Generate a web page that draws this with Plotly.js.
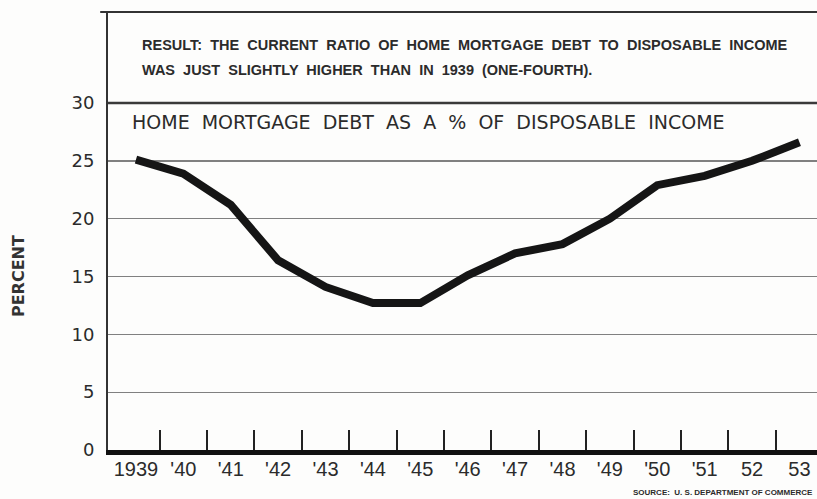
<!DOCTYPE html>
<html>
<head>
<meta charset="utf-8">
<script src="https://cdn.plot.ly/plotly-3.0.1.min.js"></script>
<style>html,body{margin:0;padding:0;background:#fdfdfc;}#chart{width:817px;height:499px;}</style>
</head>
<body>
<div id="chart"></div>
<script>
// Data
const years = [1939, 1940, 1941, 1942, 1943, 1944, 1945, 1946, 1947, 1948, 1949, 1950, 1951, 1952, 1953];
const debtPct = [25.1, 23.9, 21.2, 16.4, 14.1, 12.7, 12.7, 15.1, 17.0, 17.8, 20.0, 22.9, 23.7, 25.0, 26.6];
const yearLabels = ["1939", "'40", "'41", "'42", "'43", "'44", "'45", "'46", "'47", "'48", "'49", "'50", "'51", "52", "53"];
const yTicks = [0, 5, 10, 15, 20, 25, 30];
const yTickLabels = ["0", "5", "10", "15", "20", "25", "30"];

const headerLine1 = "RESULT:  THE  CURRENT  RATIO  OF  HOME  MORTGAGE  DEBT  TO  DISPOSABLE  INCOME";
const headerLine2 = "WAS  JUST  SLIGHTLY  HIGHER  THAN  IN  1939  (ONE-FOURTH).";
const chartTitle = "HOME  MORTGAGE  DEBT  AS  A  %  OF  DISPOSABLE  INCOME";
const sourceText = "SOURCE:  U. S. DEPARTMENT OF COMMERCE";
const yTitle = "PERCENT";

const halfYears = years.slice(0, -1).map(y => y + 0.5);

const trace = {
  x: years,
  y: debtPct,
  type: 'scatter',
  mode: 'lines',
  line: {color: '#151515', width: 8, shape: 'linear'},
  hoverinfo: 'skip'
};

const ink = '#2b2b2b';

const layout = {
  width: 817,
  height: 499,
  margin: {l: 108, r: 0, t: 12, b: 49, pad: 0},
  paper_bgcolor: '#fdfdfc',
  plot_bgcolor: '#fdfdfc',
  showlegend: false,
  xaxis: {
    range: [1938.41, 1953.37],
    tickmode: 'array',
    tickvals: years,
    ticktext: yearLabels,
    ticks: '',
    ticklabelstandoff: -3,
    showgrid: false,
    zeroline: false,
    showline: true,
    linecolor: '#111',
    linewidth: 5,
    tickfont: {family: 'Liberation Sans, Arial, sans-serif', size: 20, color: ink},
    minor: {
      tickmode: 'array',
      tickvals: halfYears,
      ticks: 'inside',
      ticklen: 20,
      tickwidth: 2,
      tickcolor: '#222',
      showgrid: false
    },
    fixedrange: true
  },
  yaxis: {
    range: [0, 37.87],
    tickmode: 'array',
    tickvals: yTicks,
    ticktext: yTickLabels,
    ticks: '',
    ticklabelstandoff: 8,
    showgrid: true,
    gridcolor: '#808080',
    gridwidth: 1.3,
    zeroline: false,
    showline: true,
    linecolor: '#333',
    linewidth: 2,
    tickfont: {family: 'DejaVu Sans, sans-serif', size: 18, color: ink},
    fixedrange: true
  },
  shapes: [
    {type: 'line', xref: 'paper', yref: 'paper', x0: -0.011, x1: 1, y0: 1, y1: 1, line: {color: '#333', width: 2}},
    {type: 'line', xref: 'paper', yref: 'y', x0: 0, x1: 1, y0: yTicks[yTicks.length - 1], y1: yTicks[yTicks.length - 1], line: {color: '#3a3a3a', width: 2.5}}
  ],
  annotations: [
    {text: headerLine1, xref: 'paper', yref: 'paper', x: 0.045, y: 0.9247, xanchor: 'left', yanchor: 'middle', showarrow: false,
     font: {family: 'Liberation Sans, Arial, sans-serif', size: 14.5, color: ink, weight: 'bold'}},
    {text: headerLine2, xref: 'paper', yref: 'paper', x: 0.045, y: 0.868, xanchor: 'left', yanchor: 'middle', showarrow: false,
     font: {family: 'Liberation Sans, Arial, sans-serif', size: 14.5, color: ink, weight: 'bold'}},
    {text: chartTitle, xref: 'paper', yref: 'paper', x: 0.031, y: 0.749, xanchor: 'left', yanchor: 'middle', showarrow: false,
     font: {family: 'DejaVu Sans, sans-serif', size: 19, color: ink}},
    {text: yTitle, xref: 'paper', yref: 'paper', x: -0.127, y: 0.397, xanchor: 'center', yanchor: 'middle', textangle: -90, showarrow: false,
     font: {family: 'DejaVu Sans, sans-serif', size: 16, color: '#333', weight: 'bold'}},
    {text: sourceText, xref: 'paper', yref: 'paper', x: 0.997, y: -0.096, xanchor: 'right', yanchor: 'middle', showarrow: false,
     font: {family: 'Liberation Sans, Arial, sans-serif', size: 8, color: ink, weight: 'bold'}}
  ]
};

Plotly.newPlot('chart', [trace], layout, {displayModeBar: false, staticPlot: true});
</script>
</body>
</html>
